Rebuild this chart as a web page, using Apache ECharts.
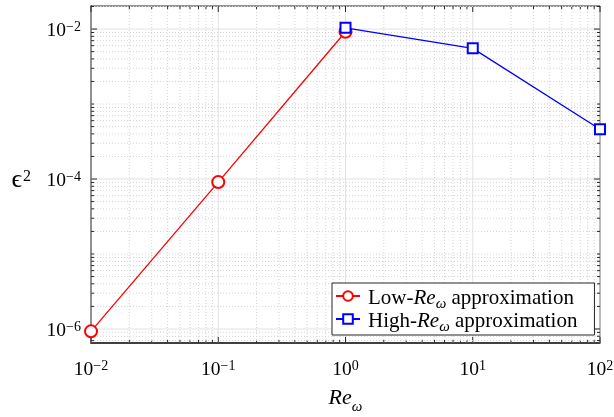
<!DOCTYPE html>
<html>
<head>
<meta charset="utf-8">
<script src="https://cdn.jsdelivr.net/npm/echarts@6/dist/echarts.min.js"></script>
<style>
html,body{margin:0;padding:0;background:#fff;}
#c{width:614px;height:417px;}
</style>
</head>
<body>
<div id="c"></div>
<script>
// ---- data ----
var lowX = [0.01, 0.1, 1];
var lowY = [9.3e-7, 9.1e-5, 9.2e-3];
var highX = [1, 10, 100];
var highY = [1.04e-2, 5.53e-3, 4.6e-4];
var seriesNames = ['Low-Re approximation', 'High-Re approximation'];

// ---- axis tick values ----
var xMajorTicks = [0.01, 0.1, 1, 10, 100];
var xMinorMult = [2, 3, 4, 5, 6, 7, 8, 9];
var xDecades = [0.01, 0.1, 1, 10];
var yMajorTicks = [1e-6, 1e-4, 1e-2];
var yMinorMult = [1, 2, 3, 4, 5, 6, 7, 8, 9];
var yDecades = [1e-7, 1e-6, 1e-5, 1e-4, 1e-3, 1e-2];
var xMin = 0.01, xMax = 100;
var yMin = 6.5e-7, yMax = 0.0203;

var xMinorTicks = [];
xDecades.forEach(function (d) { xMinorMult.forEach(function (k) { xMinorTicks.push(k * d); }); });
var yMinorTicks = [];
yDecades.forEach(function (d) {
  yMinorMult.forEach(function (k) {
    var v = k * d;
    var isMajor = yMajorTicks.some(function (m) { return Math.abs(m - v) / m < 1e-9; });
    if (!isMajor && v >= yMin && v <= yMax) yMinorTicks.push(v);
  });
});

var serif = 'Liberation Serif';
var AX = '#262626';

function powLabel(v, evenOnly) {
  var l = Math.log10(v);
  var e = Math.round(l);
  if (Math.abs(l - e) > 1e-6) return '';
  if (evenOnly && Math.abs(e) % 2 === 1) return '';
  return '{b|10}{s|' + (e < 0 ? '\u2212' : '') + Math.abs(e) + '}';
}
var labelRich = {
  b: { fontFamily: serif, fontSize: 19.5, color: '#000', lineHeight: 24, verticalAlign: 'bottom' },
  s: { fontFamily: serif, fontSize: 14, color: '#000', lineHeight: 24, verticalAlign: 'bottom', padding: [0, 0, 7, 0] }
};

var xTickData = xMajorTicks.map(function (v) { return [v, 1e-4, 1]; })
  .concat(xMinorTicks.map(function (v) { return [v, 1e-4, 0]; }));
var yTickData = yMajorTicks.map(function (v) { return [1, v, 1]; })
  .concat(yMinorTicks.map(function (v) { return [1, v, 0]; }));

function renderX(params, api) {
  var cs = params.coordSys;
  var x = api.coord([api.value(0), api.value(1)])[0];
  var major = api.value(2) === 1;
  var top = cs.y, bot = cs.y + cs.height;
  var tl = major ? 6 : 3;
  return {
    type: 'group',
    children: [
      { type: 'line', shape: { x1: x, y1: top, x2: x, y2: bot },
        style: major ? { stroke: '#e2e2e2', lineWidth: 1 } : { stroke: '#d4d4d4', lineWidth: 1, lineDash: [1, 2] } },
      { type: 'line', shape: { x1: x, y1: bot, x2: x, y2: bot - tl }, style: { stroke: AX, lineWidth: 1 } },
      { type: 'line', shape: { x1: x, y1: top, x2: x, y2: top + tl }, style: { stroke: AX, lineWidth: 1 } }
    ]
  };
}
function renderY(params, api) {
  var cs = params.coordSys;
  var y = api.coord([api.value(0), api.value(1)])[1];
  var major = api.value(2) === 1;
  var left = cs.x, right = cs.x + cs.width;
  var tl = major ? 6 : 3;
  return {
    type: 'group',
    children: [
      { type: 'line', shape: { x1: left, y1: y, x2: right, y2: y },
        style: major ? { stroke: '#e2e2e2', lineWidth: 1 } : { stroke: '#d4d4d4', lineWidth: 1, lineDash: [1, 2] } },
      { type: 'line', shape: { x1: left, y1: y, x2: left + tl, y2: y }, style: { stroke: AX, lineWidth: 1 } },
      { type: 'line', shape: { x1: right, y1: y, x2: right - tl, y2: y }, style: { stroke: AX, lineWidth: 1 } }
    ]
  };
}

function legendFmt(name) {
  var pre = name.indexOf('Low') === 0 ? 'Low-' : 'High-';
  return '{p|' + pre + '}{i|Re}{w|\u03c9}{t| approximation}';
}

var chart = echarts.init(document.getElementById('c'), null, { renderer: 'canvas' });
chart.setOption({
  animation: false,
  backgroundColor: '#fff',
  grid: { left: 91, right: 14, top: 6, bottom: 74, outerBoundsMode: 'none', containLabel: false,
          show: true, borderColor: AX, borderWidth: 1, backgroundColor: 'transparent' },
  legend: {
    data: seriesNames,
    orient: 'vertical',
    left: 332, top: 283,
    padding: [1, 17, 0, 3],
    itemGap: -5,
    itemWidth: 24, itemHeight: 12,
    backgroundColor: '#fff',
    borderColor: AX, borderWidth: 1,
    formatter: legendFmt,
    textStyle: {
      rich: {
        p: { fontFamily: serif, fontSize: 21, color: '#000', lineHeight: 24, verticalAlign: 'top', padding: [4, 0, 0, 3] },
        t: { fontFamily: serif, fontSize: 21, color: '#000', lineHeight: 24, verticalAlign: 'top', padding: [4, 0, 0, 0] },
        i: { fontFamily: serif, fontSize: 21, fontStyle: 'italic', color: '#000', lineHeight: 24, verticalAlign: 'top', padding: [4, 0, 0, 0] },
        w: { fontFamily: serif, fontSize: 15, fontStyle: 'italic', color: '#000', lineHeight: 24, verticalAlign: 'top', padding: [13, 0, 0, 0] }
      }
    }
  },
  xAxis: {
    type: 'log', logBase: 10, min: xMin, max: xMax,
    axisLine: { show: true, lineStyle: { color: AX, width: 1.5 } },
    axisTick: { show: false },
    splitLine: { show: false },
    axisLabel: { margin: 13, formatter: function (v) { return powLabel(v, false); }, rich: labelRich, showMinLabel: true, showMaxLabel: true },
    name: '{r|Re}{w|\u03c9}',
    nameLocation: 'middle', nameGap: 44,
    nameTextStyle: {
      rich: {
        r: { fontFamily: serif, fontSize: 22, fontStyle: 'italic', color: '#000', lineHeight: 28, verticalAlign: 'bottom', padding: [0, 0, 6, 0] },
        w: { fontFamily: serif, fontSize: 15, fontStyle: 'italic', color: '#000', lineHeight: 28, verticalAlign: 'bottom' }
      }
    }
  },
  yAxis: {
    type: 'log', logBase: 10, min: yMin, max: yMax,
    axisLine: { show: true, lineStyle: { color: AX, width: 1.5 } },
    axisTick: { show: false },
    splitLine: { show: false },
    axisLabel: { margin: 10, formatter: function (v) { return powLabel(v, true); }, rich: labelRich },
    name: '{e|\u03f5}{s|2}',
    nameLocation: 'middle', nameRotate: 0, nameGap: 60,
    nameTextStyle: {
      padding: [8, 0, 0, 0],
      rich: {
        e: { fontFamily: serif, fontSize: 26, color: '#000', lineHeight: 30, verticalAlign: 'bottom' },
        s: { fontFamily: serif, fontSize: 16, color: '#000', lineHeight: 30, verticalAlign: 'bottom', padding: [0, 0, 9, 1] }
      }
    }
  },
  series: [
    { type: 'custom', name: 'xgrid', silent: true, z: 1, renderItem: renderX, data: xTickData, clip: false },
    { type: 'custom', name: 'ygrid', silent: true, z: 1, renderItem: renderY, data: yTickData, clip: false },
    {
      type: 'line', name: seriesNames[0], z: 3,
      data: lowX.map(function (x, i) { return [x, lowY[i]]; }),
      symbol: 'emptyCircle', symbolSize: 12,
      lineStyle: { color: '#ff0000', width: 1.3 },
      itemStyle: { color: '#ff0000', borderWidth: 1.3 }
    },
    {
      type: 'line', name: seriesNames[1], z: 4,
      data: highX.map(function (x, i) { return [x, highY[i]]; }),
      symbol: 'emptyRect', symbolSize: 10,
      lineStyle: { color: '#0000ff', width: 1.3 },
      itemStyle: { color: '#0000ff', borderWidth: 1.3 }
    }
  ]
});
</script>
</body>
</html>
